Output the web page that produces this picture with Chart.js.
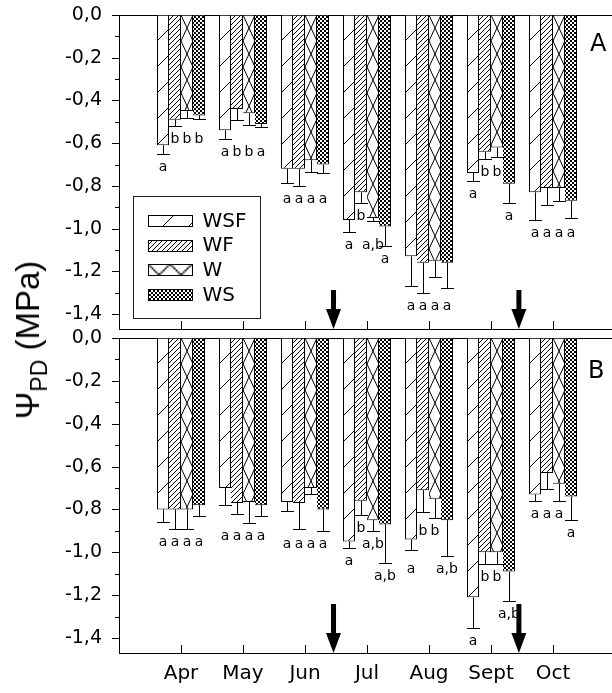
<!DOCTYPE html>
<html><head><meta charset="utf-8">
<script src="https://cdn.jsdelivr.net/npm/chart.js@4/dist/chart.umd.min.js"></script>
<style>
html,body{margin:0;padding:0;background:#fff;overflow:hidden;width:612px;height:693px;}
#wrap{position:relative;width:612px;height:693px;overflow:hidden;}
canvas{position:absolute;left:0;}
#cA{top:0}
#cB{top:323px}
#ytitle{position:absolute;left:31px;top:340px;transform:translate(-50%,-50%) rotate(-90deg);font:33px "Liberation Sans",Arial,sans-serif;white-space:nowrap;color:#000;}
#ytitle sub{font-size:23px;vertical-align:-8px;}
.plabel{position:absolute;font:24px "DejaVu Sans",sans-serif;color:#000;line-height:1;}
</style></head><body>
<div id="wrap">
<canvas id="cA" width="615" height="340"></canvas>
<canvas id="cB" width="615" height="370"></canvas>
<div id="ytitle">&Psi;<sub>PD</sub> (MPa)</div>
<div class="plabel" style="left:590px;top:31px">A</div>
<div class="plabel" style="left:588px;top:358px">B</div>
</div>
<script>
// ---------- data ----------
const months = ['Apr','May','Jun','Jul','Aug','Sept','Oct'];
const seriesNames = ['WSF','WF','W','WS'];

// Panel A (MPa)
const aWSF = [-0.61, -0.54, -0.72, -0.96, -1.13, -0.74, -0.83];
const aWF  = [-0.49, -0.44, -0.72, -0.83, -1.16, -0.64, -0.81];
const aW   = [-0.45, -0.46, -0.68, -0.95, -1.15, -0.62, -0.81];
const aWS  = [-0.47, -0.51, -0.70, -0.99, -1.16, -0.79, -0.87];
const aWSFerr = [0.04, 0.04, 0.065, 0.055, 0.14, 0.035, 0.13];
const aWFerr  = [0.03, 0.05, 0.08, 0.05, 0.14, 0.035, 0.08];
const aWerr   = [0.03, 0.055, 0.055, 0.015, 0.075, 0.045, 0.06];
const aWSerr  = [0.015, 0.015, 0.04, 0.09, 0.12, 0.09, 0.08];
const aWSFsig = ['a','a','a','a','a','a','a'];
const aWFsig  = ['b','b','a','b','a','b','a'];
const aWsig   = ['b','b','a','a,b','a','b','a'];
const aWSsig  = ['b','a','a','a','a','a','a'];

// Panel B (MPa)
const bWSF = [-0.80, -0.70, -0.765, -0.95, -0.94, -1.21, -0.73];
const bWF  = [-0.80, -0.77, -0.77, -0.76, -0.71, -1.00, -0.63];
const bW   = [-0.80, -0.765, -0.70, -0.85, -0.75, -1.00, -0.68];
const bWS  = [-0.78, -0.78, -0.80, -0.87, -0.85, -1.09, -0.74];
const bWSFerr = [0.06, 0.08, 0.04, 0.03, 0.05, 0.145, 0.03];
const bWFerr  = [0.09, 0.05, 0.12, 0.065, 0.10, 0.055, 0.075];
const bWerr   = [0.09, 0.10, 0.03, 0.05, 0.09, 0.055, 0.08];
const bWSerr  = [0.05, 0.05, 0.10, 0.18, 0.165, 0.135, 0.11];
const bWSFsig = ['a','a','a','a','a','a','a'];
const bWFsig  = ['a','a','a','b','b','b','a'];
const bWsig   = ['a','a','a','a,b','b','b','a'];
const bWSsig  = ['a','a','a','a,b','a,b','a,b','a'];

// axis ticks
const yMajor = [0, -0.2, -0.4, -0.6, -0.8, -1.0, -1.2, -1.4];
const yMinor = [-0.1, -0.3, -0.5, -0.7, -0.9, -1.1, -1.3];
const yMin = -1.47;
// arrows (fractional position along the month list)
const arrowPos = [2.46, 5.45];

// ---------- styling ----------
const FONT = '"DejaVu Sans", sans-serif';
const CAT = 48 / 62;
const chartLabels = ['', ...months, ''];

function makeTile(kind) {
  const c = document.createElement('canvas');
  let w, h;
  if (kind === 0) { w = 26; h = 26; }
  else if (kind === 1) { w = 5; h = 5; }
  else if (kind === 2) { w = 12; h = 26; }
  else { w = 4; h = 4; }
  c.width = w; c.height = h;
  const g = c.getContext('2d');
  g.fillStyle = '#fff'; g.fillRect(0, 0, w, h);
  g.strokeStyle = '#000'; g.lineWidth = 1;
  g.beginPath();
  const slash = () => { for (let k = -1; k <= 1; k++) { g.moveTo(k * w, h); g.lineTo(k * w + w, 0); } };
  const back = () => { for (let k = -1; k <= 1; k++) { g.moveTo(k * w, 0); g.lineTo(k * w + w, h); } };
  if (kind === 0 || kind === 1) slash();
  else { slash(); back(); }
  g.stroke();
  return c;
}
const tiles = [0, 1, 2, 3].map(makeTile);

function fillFor(d) {
  return (ctx) => {
    const chart = ctx.chart;
    const p = chart.ctx.createPattern(tiles[d], 'repeat');
    const xs = chart.scales && chart.scales.x, ca = chart.chartArea;
    if (ctx.type === 'data' && xs && ca) {
      const sp = xs.getPixelForValue(1) - xs.getPixelForValue(0);
      const c = xs.getPixelForValue(ctx.dataIndex);
      const left = c - sp * CAT / 2 + sp * CAT / 4 * d;
      p.setTransform(new DOMMatrix([1, 0, 0, 1, left, ca.top]));
    }
    return p;
  };
}

function makePanel(id, vals, errs, sigs, opt) {
  const datasets = seriesNames.map((name, d) => ({
    label: name,
    data: [null, ...vals[d], null],
    backgroundColor: fillFor(d),
    borderColor: '#000',
    borderWidth: d === 0 ? 1 : { left: 0, right: 1, top: 1, bottom: 1 },
    categoryPercentage: CAT,
    barPercentage: 1
  }));

  const decor = {
    id: 'decor' + id,
    afterDatasetsDraw(chart) {
      const g = chart.ctx, ca = chart.chartArea;
      const xs = chart.scales.x, ys = chart.scales.y;
      g.save();
      g.strokeStyle = '#000'; g.fillStyle = '#000'; g.lineWidth = 1;
      // error bars
      const caps = [];
      for (let d = 0; d < 4; d++) {
        const meta = chart.getDatasetMeta(d);
        caps[d] = [];
        for (let j = 0; j < months.length; j++) {
          const el = meta.data[j + 1];
          const v = vals[d][j], e = errs[d][j];
          const x = Math.round(el.x) + 0.5;
          const yEnd = ys.getPixelForValue(v - e);
          caps[d][j] = yEnd;
          g.beginPath();
          g.moveTo(x, el.y); g.lineTo(x, Math.round(yEnd) + 0.5);
          g.moveTo(x - 6.5, Math.round(yEnd) + 0.5); g.lineTo(x + 6.5, Math.round(yEnd) + 0.5);
          g.stroke();
        }
      }
      // significance letters: bars whose error caps lie close together share one text row
      g.font = '14px ' + FONT;
      g.textAlign = 'center'; g.textBaseline = 'alphabetic';
      for (let j = 0; j < months.length; j++) {
        const same = [0, 1, 2, 3].every(d => sigs[d][j] === sigs[0][j]);
        const gap = same ? 19 : 13;
        const order = [0, 1, 2, 3].sort((p, q) => caps[p][j] - caps[q][j]);
        const rowY = [];
        let start = 0;
        for (let k = 1; k <= 4; k++) {
          if (k === 4 || caps[order[k]][j] - caps[order[k - 1]][j] > gap) {
            const m = caps[order[k - 1]][j];
            for (let t = start; t < k; t++) rowY[order[t]] = m;
            start = k;
          }
        }
        for (let d = 0; d < 4; d++) {
          const el = chart.getDatasetMeta(d).data[j + 1];
          g.fillText(sigs[d][j], el.x, rowY[d] + 17);
        }
      }
      // inner x ticks, y major/minor ticks
      g.beginPath();
      for (let i = 1; i <= months.length; i++) {
        const x = Math.round(xs.getPixelForValue(i)) + 0.5;
        g.moveTo(x, ca.bottom); g.lineTo(x, ca.bottom - 8);
      }
      yMajor.forEach(v => {
        const y = Math.round(ys.getPixelForValue(v)) + 0.5;
        g.moveTo(ca.left - 7, y); g.lineTo(ca.left, y);
      });
      yMinor.forEach(v => {
        const y = Math.round(ys.getPixelForValue(v)) + 0.5;
        g.moveTo(ca.left - 4, y); g.lineTo(ca.left, y);
      });
      g.stroke();
      // arrows
      arrowPos.forEach(p => {
        const x = xs.getPixelForValue(p + 1);
        const tip = ca.bottom, top = ca.bottom - opt.arrowLen;
        g.fillRect(x - 2.5, top, 5, opt.arrowLen - 16);
        g.beginPath();
        g.moveTo(x - 7.5, tip - 20); g.lineTo(x + 7.5, tip - 20); g.lineTo(x, tip);
        g.closePath(); g.fill();
      });
      // legend
      if (opt.legend) {
        const bx = Math.round(ca.left + 14) + 0.5, by = Math.round(ca.bottom - 133) + 0.5;
        g.fillStyle = '#fff';
        g.fillRect(bx, by, 127, 122);
        g.strokeStyle = '#222';
        g.strokeRect(bx, by, 127, 122);
        g.font = '20px ' + FONT;
        g.textAlign = 'left'; g.textBaseline = 'middle';
        seriesNames.forEach((name, d) => {
          const cy = by + 24 + 24.7 * d;
          const sx = Math.round(bx + 14), sy = Math.round(cy - 5.5);
          const pat = g.createPattern(tiles[d], 'repeat');
          let m = new DOMMatrix([1, 0, 0, 1, sx, sy]);
          if (d === 2) m = m.scale(22 / 12, 22 / 26);
          pat.setTransform(m);
          g.fillStyle = pat;
          g.fillRect(sx, sy, 44, 11);
          g.strokeStyle = '#000';
          g.strokeRect(sx + 0.5, sy + 0.5, 44, 11);
          g.fillStyle = '#000';
          g.fillText(chart.data.datasets[d].label, bx + 69, cy + 1);
        });
      }
      g.restore();
    }
  };

  return new Chart(document.getElementById(id), {
    type: 'bar',
    data: { labels: chartLabels, datasets },
    options: {
      responsive: false,
      animation: false,
      events: [],
      layout: { padding: { top: 15, left: 0, right: 0, bottom: 0 } },
      plugins: { legend: { display: false }, tooltip: { enabled: false } },
      scales: {
        x: {
          type: 'category',
          offset: false,
          grid: { display: true, drawOnChartArea: false, drawTicks: true, tickLength: 9,
                  tickColor: 'rgba(0,0,0,0)', offset: false },
          border: { display: true, color: '#000', width: 1 },
          ticks: {
            display: opt.showLabels, autoSkip: false, maxRotation: 0, minRotation: 0,
            padding: 0, color: '#000', font: { family: FONT, size: 20 },
            callback: (v, i) => chartLabels[i]
          },
          afterFit: s => { s.height = opt.xh; }
        },
        y: {
          min: yMin, max: 0,
          grid: {
            color: c => (c.tick && c.tick.value === 0) ? '#000' : 'rgba(0,0,0,0)',
            tickColor: 'rgba(0,0,0,0)', tickLength: 17, lineWidth: 1
          },
          border: { display: true, color: '#000', width: 1 },
          ticks: {
            padding: 0, color: '#000', font: { family: FONT, size: 19, lineHeight: 1 },
            callback: v => v.toFixed(1).replace('.', ',')
          },
          afterBuildTicks: s => { s.ticks = yMajor.map(v => ({ value: v })); },
          afterFit: s => { s.width = 119; }
        }
      }
    },
    plugins: [decor]
  });
}

makePanel('cA', [aWSF, aWF, aW, aWS], [aWSFerr, aWFerr, aWerr, aWSerr],
  [aWSFsig, aWFsig, aWsig, aWSsig], { showLabels: false, xh: 11, arrowLen: 39, legend: true });
makePanel('cB', [bWSF, bWF, bW, bWS], [bWSFerr, bWFerr, bWerr, bWSerr],
  [bWSFsig, bWFsig, bWsig, bWSsig], { showLabels: true, xh: 40, arrowLen: 49, legend: false });
</script>
</body></html>
